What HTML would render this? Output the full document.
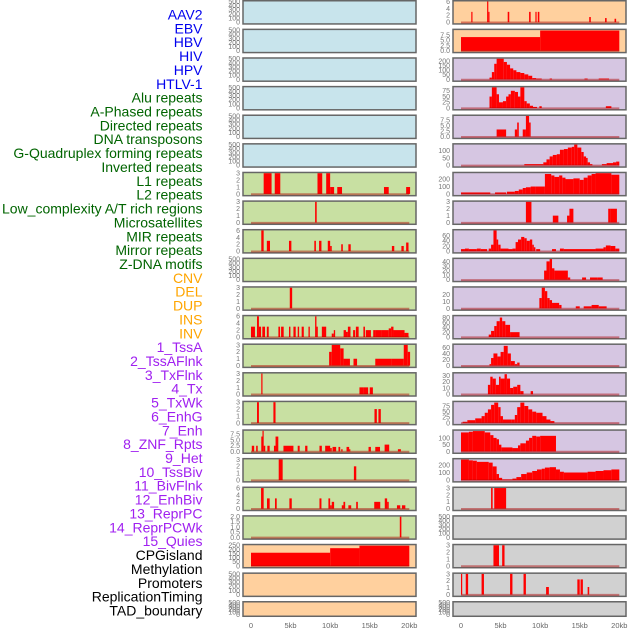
<!DOCTYPE html>
<html><head><meta charset="utf-8"><style>
html,body{margin:0;padding:0;background:#fff;width:630px;height:630px;overflow:hidden}
svg{display:block}
text{font-family:"Liberation Sans",sans-serif}
</style></head><body>
<svg id="chart" width="630" height="630" viewBox="0 0 630 630"></svg>
<script>
const labels=["AAV2","EBV","HBV","HIV","HPV","HTLV-1","Alu repeats","A-Phased repeats","Directed repeats","DNA transposons","G-Quadruplex forming repeats","Inverted repeats","L1 repeats","L2 repeats","Low_complexity A/T rich regions","Microsatellites","MIR repeats","Mirror repeats","Z-DNA motifs","CNV","DEL","DUP","INS","INV","1_TssA","2_TssAFlnk","3_TxFlnk","4_Tx","5_TxWk","6_EnhG","7_Enh","8_ZNF_Rpts","9_Het","10_TssBiv","11_BivFlnk","12_EnhBiv","13_ReprPC","14_ReprPCWk","15_Quies","CPGisland","Methylation","Promoters","ReplicationTiming","TAD_boundary"];
const labelGroups=[6,13,5,15,5];
const groupColors=["#0000ee","#006400","#ffa500","#a020f0","#000000"];
const xTickValues=[0,5,10,15,20];
const xTickLabels=["0","5kb","10kb","15kb","20kb"];
const T3=[0,1,2,3],T6=[0,2,4,6],T500=[0,100,200,300,400,500],T75=[0,2.5,5,7.5];
// left column: ymax, ticks, segments [startKb,endKb,value]
const leftYmax=[500,500,500,500,500,500,3,3,6,500,3,6,3,3,3,9,3,6,2,250,500,500];
const leftTicks=[T500,T500,T500,T500,T500,T500,T3,T3,T6,T500,T3,T6,T3,T3,T3,T75,T3,T6,[0,0.5,1,1.5,2],[0,50,100,150,200,250],T500,T500];
const L6=[[1.6,2.6,3],[3.0,3.7,3],[8.4,9.0,3],[9.5,10.0,3],[10.0,10.5,1],[10.9,11.5,1],[16.8,17.4,1],[19.6,20.1,1]];
const L7=[[8.1,8.3,3]];
const L8=[[1.3,1.6,6],[2.0,2.4,3],[4.8,5.1,3],[8.0,8.2,3],[8.6,8.9,3],[9.7,10.0,3],[10.0,10.2,1.5],[11.4,11.6,2],[12.3,12.6,2],[17.8,18.1,1.5],[19.0,19.3,1.5],[19.6,19.9,2.5]];
const L10=[[4.9,5.2,3]];
const L11=[[0,0.5,3],[0.76,1.0,6],[1.0,1.27,3],[1.43,1.77,3],[2.0,2.24,3],[3.46,3.67,3],[3.8,4.13,3],[4.8,4.98,3],[5.36,5.65,3],[5.9,6.08,3],[6.4,6.67,3],[7.26,7.43,3],[8.1,8.27,6],[8.27,8.44,3],[8.95,9.5,3],[10.2,10.46,1],[10.46,10.63,2],[11.7,12.0,2],[12.0,12.24,1.5],[12.24,12.57,3],[12.9,13.16,2],[13.25,13.6,3],[14.2,14.4,3],[14.5,15.15,2],[15.44,15.78,2],[15.78,16.54,2],[16.54,17.4,2],[17.4,17.7,2.5],[17.7,18.0,3],[18.0,19.4,2],[19.4,19.9,1.2]];
const L12=[[9.87,10.2,2],[10.2,11.27,3],[11.27,11.7,2.5],[11.7,12.5,1],[12.95,13.4,1],[15.7,17.8,1],[17.8,19.3,1],[19.3,19.8,3],[19.8,20.1,2]];
const L13=[[1.3,1.45,3],[13.7,14.2,1],[14.2,14.8,1],[15.0,15.4,1]];
const L14=[[0.76,1.0,3],[2.83,3.1,3],[15.6,15.9,2],[16.1,16.4,2]];
const L15=[[0.1,0.4,2.5],[0.65,0.85,2.5],[1.3,1.5,6.5],[1.45,1.6,9],[1.6,1.8,2.5],[2.07,2.36,2.5],[2.9,3.1,2.5],[3.1,3.45,6.5],[4.1,5.36,2.5],[5.9,6.15,2.5],[6.84,7.13,2.5],[8.65,8.95,2.5],[9.37,10.0,2.5],[10.0,10.2,1.5],[10.3,10.76,2],[11.05,11.27,2],[11.4,11.57,1],[12.07,12.4,2],[12.4,12.53,1],[14.85,15.15,2],[15.7,16.3,2],[16.88,17.46,3],[18.56,18.94,1]];
const L16=[[3.5,4.0,3],[13.0,13.3,2]];
const L17=[[1.27,1.6,6],[2.02,2.36,3],[3.03,3.25,3],[4.85,5.15,3],[8.65,8.9,3],[9.78,10.0,3],[10.0,10.2,1],[10.2,10.5,2],[11.47,11.68,1],[11.68,11.9,2],[12.3,12.66,1],[13.29,13.5,2],[15.57,16.33,2],[16.9,17.2,3],[17.2,17.4,2],[18.44,18.86,1],[19.07,19.5,1]];
const L18=[[18.8,19.0,2]];
const L19=[[0,10,160],[10,13.7,215],[13.7,20,245]];
const leftSegs=[[],[],[],[],[],[],L6,L7,L8,[],L10,L11,L12,L13,L14,L15,L16,L17,L18,L19,[],[]];
// right column
const rightYmax=[6,9.8,225,90,9.5,140,280,3,80,45,30,85,68,33,92,152,272,3,500,3,3,500];
const rightTicks=[T6,[0,2.5,5,7.5],[0,50,100,150,200],[0,25,50,75],[0,2.5,5,7.5],[0,50,100],[0,100,200],T3,[0,20,40,60],[0,10,20,30,40],[0,10,20],[0,20,40,60,80],[0,20,40,60],[0,10,20,30],[0,25,50,75],[0,50,100],[0,100,200],T3,T500,T3,T3,T500];
const R0=[[1.3,1.45,3],[3.3,3.45,6],[3.45,3.55,3],[5.9,6.1,3],[8.6,8.8,3],[9.4,9.55,3],[9.7,9.9,3],[16.2,16.4,1.5],[18.2,18.4,1.2],[19.4,19.6,1]];
const R1=[[0,10,6.5],[10,20,9.6]];
const R2=[[3.6,3.9,20],[3.9,4.2,80],[4.2,4.5,170],[4.5,5.4,225],[5.4,5.8,190],[5.8,6.2,160],[6.2,6.6,120],[6.6,7.0,100],[7.0,7.5,80],[7.5,8.0,70],[8.0,8.5,55],[8.5,9.0,40],[9.0,9.5,15],[9.5,10.2,10],[11.2,11.5,10],[15.6,16.0,10],[17.4,18.7,10]];
const R3=[[3.6,3.9,50],[3.9,4.5,90],[4.5,4.8,60],[4.8,5.3,25],[5.3,5.7,30],[5.7,6.0,50],[6.0,6.3,60],[6.3,6.8,75],[6.8,7.2,70],[7.2,7.5,50],[7.5,8.0,90],[8.0,8.3,30],[8.3,8.7,20],[8.7,9.1,10],[9.1,9.6,5],[9.9,10.2,8],[18.3,19.0,8]];
const R4=[[4.5,5.7,3.3],[6.8,7.1,3.3],[7.1,7.3,6.5],[7.8,8.2,3.3],[8.2,8.6,9.5],[8.6,8.8,6.5]];
const R5=[[8.0,10.4,8],[10.4,10.8,20],[10.8,11.2,40],[11.2,11.6,60],[11.6,12.1,70],[12.1,12.5,75],[12.5,13.0,105],[13.0,13.5,110],[13.5,14.0,120],[14.0,14.3,125],[14.3,14.7,140],[14.7,15.2,120],[15.2,15.5,90],[15.5,15.8,60],[15.8,16.0,50],[16.0,16.3,20],[16.3,16.6,8],[17.8,18.4,8],[18.4,19.2,15],[19.2,19.6,20],[19.6,20,25]];
const R6=[[0,3.7,20],[4.3,5.7,20],[5.8,6.8,30],[6.8,7.3,40],[7.3,7.8,60],[7.8,8.2,80],[8.2,8.8,90],[8.8,9.4,100],[9.4,10.6,100],[10.6,11.4,270],[11.4,11.8,250],[11.8,12.4,230],[12.4,12.8,250],[12.8,13.2,220],[13.2,14.2,200],[14.2,15.0,210],[15.0,15.5,190],[15.5,16.0,220],[16.0,16.5,250],[16.5,17.0,270],[17.0,19.0,280],[19.0,20.0,260]];
const R7=[[8.2,8.9,3],[11.6,12.3,1],[13.4,13.7,1],[13.7,14.2,2],[18.6,18.9,2],[18.9,19.7,2]];
const R8=[[0,0.5,8],[0.5,1,10],[1,2,8],[2,2.5,10],[2.5,3.3,8],[3.5,3.8,10],[3.8,4.1,25],[4.1,4.5,80],[4.5,4.7,45],[4.7,5,25],[5,6,10],[6,6.5,8],[6.5,6.9,10],[6.9,7.2,35],[7.2,7.6,45],[7.6,8,55],[8,8.3,50],[8.3,8.7,40],[8.7,9,45],[9,9.2,25],[9.2,9.4,15],[9.5,10,8],[11.5,12,8],[12.5,13,10],[13,17,8],[17,18,10],[18,18.3,15],[18.3,18.9,22],[18.9,19.5,20],[19.5,20,10]];
const R9=[[10.5,10.8,20],[10.8,11.2,40],[11.2,11.5,45],[11.5,11.8,25],[11.8,13.5,20],[13.5,13.8,5],[15.3,15.8,5],[16.3,17.2,5],[17.2,17.9,5]];
const R10=[[9.9,10.2,15],[10.2,10.6,30],[10.6,10.9,25],[10.9,11.2,15],[11.2,11.5,12],[11.5,12.4,8],[12.4,12.7,5],[14.5,15,3],[15.5,16.5,3],[16.5,17.4,5],[17.4,18.4,3]];
const R11=[[3.5,3.8,10],[3.8,4.2,25],[4.2,4.5,45],[4.5,4.9,65],[4.9,5.2,80],[5.2,5.6,65],[5.6,6.2,50],[6.2,7.4,20]];
const R12=[[3.6,3.8,5],[3.8,4.1,25],[4.1,4.6,40],[4.6,5.0,30],[5.0,5.4,45],[5.4,5.9,65],[5.9,6.3,40],[6.3,6.8,15],[6.8,7.1,5],[7.1,7.4,10]];
const R13=[[3.4,3.7,15],[3.7,4.0,28],[4.0,4.4,25],[4.4,4.8,15],[4.8,5.0,28],[5.0,5.5,25],[5.5,5.8,32],[5.8,6.2,25],[6.2,6.6,10],[6.6,7.1,12],[7.1,7.5,15],[7.5,7.9,5],[8.8,9.1,5]];
const R14=[[0.2,0.8,5],[0.8,1.8,12],[1.8,2.6,20],[2.6,3,30],[3,3.4,45],[3.4,3.8,60],[3.8,4.2,80],[4.2,4.7,90],[4.7,5,70],[5,5.3,30],[5.3,6.4,15],[6.4,6.8,15],[6.8,7.1,35],[7.1,7.5,70],[7.5,8,90],[8,8.5,75],[8.5,9,60],[9,9.5,50],[9.5,10.3,45],[10.3,10.8,30],[10.8,11.3,15],[11.3,11.8,8]];
const R15=[[0,1,140],[1,1.5,145],[1.5,3,150],[3,3.7,140],[3.7,4.1,120],[4.1,4.5,100],[4.5,4.8,90],[4.8,5.1,50],[5.1,6.5,30],[6.5,7.2,25],[7.2,7.5,45],[7.5,8.2,60],[8.2,8.6,80],[8.6,9,100],[9,9.5,115],[9.5,10,110],[10,12,115]];
const R16=[[0,1,270],[1,1.5,260],[1.5,2,255],[2,3.5,240],[3.5,4,230],[4,4.5,180],[4.5,4.8,80],[4.8,5.2,30],[5.2,6.5,10],[6.5,7,20],[7,7.6,40],[7.6,8.3,80],[8.3,9,100],[9,9.6,120],[9.6,10.2,140],[10.2,10.6,150],[10.6,11.2,165],[11.2,12,170],[12,12.5,140],[12.5,13,110],[13,16,100],[16,17,110],[17,18,120],[18,19,130],[19,20,140]];
const R17=[[3.8,4.0,3],[4.2,5.7,3]];
const R19=[[4.1,4.8,3],[5.2,5.5,3]];
const R20=[[0,0.15,3],[0.6,0.9,3],[2.6,2.9,3],[6.2,6.5,3],[7.9,8.2,3],[10.75,11.1,1.1],[14.7,15.0,2.2],[15.1,15.4,2.2],[16.0,16.2,1.1]];
const rightSegs=[R0,R1,R2,R3,R4,R5,R6,R7,R8,R9,R10,R11,R12,R13,R14,R15,R16,R17,[],R19,R20,[]];

const NS="http://www.w3.org/2000/svg";
const svg=document.getElementById('chart');
function mk(tag,attrs,parent){const e=document.createElementNS(NS,tag);for(const k in attrs)e.setAttribute(k,attrs[k]);(parent||svg).appendChild(e);return e;}
function rowTop(i){return i*28.62;}
function rowH(i){return i===21?16:24.7;}
const cols=[{px:243,x0:251},{px:453,x0:461}];
const PW=173,XW=158.3;
function xS(c,kb){return cols[c].x0+kb*XW/20;}
function yS(i,ymax,v){const t=rowTop(i),h=rowH(i);return t+h-2.5-(v/ymax)*(h-4);}
function fillColor(c,i){
  if(c===0){if(i<6)return"#c8e4ec";if(i<19)return"#c8e0a2";return"#ffd09e";}
  if(i<2)return"#ffd09e";if(i<17)return"#d6c6e2";return"#d1d1d1";
}
function fmt(t,ticks){const dec=ticks.some(v=>v%1!==0);return dec?t.toFixed(1):String(t);}

// labels
let li=0;
labelGroups.forEach((n,g)=>{for(let k=0;k<n;k++){
  const t=mk('text',{x:202.5,y:19.5+li*13.86,'text-anchor':'end','font-size':14,fill:groupColors[g]});
  t.textContent=labels[li];
  
  
  li++;}});

for(let c=0;c<2;c++){
  const ymaxArr=c?rightYmax:leftYmax,tickArr=c?rightTicks:leftTicks,segArr=c?rightSegs:leftSegs;
  for(let i=0;i<22;i++){
    const g=mk('g',{});
    
    
    const t=rowTop(i),h=rowH(i);
    mk('rect',{x:cols[c].px,y:t+0.75,width:PW,height:h-1.5,fill:fillColor(c,i),stroke:'#666',"stroke-width":1.5},g);
    const ymax=ymaxArr[i],ticks=tickArr[i];
    ticks.forEach(v=>{
      const tx=mk('text',{x:cols[c].px-3,y:yS(i,ymax,v)+2.4,'text-anchor':'end','font-size':7,fill:'#777'},g);
      tx.textContent=fmt(v,ticks);
      
      
    });
    const segs=segArr[i];
    if(segs.length){
      const y0=yS(i,ymax,0);
      segs.forEach(s=>{
        const x1=xS(c,s[0]),x2=xS(c,s[1]),y1=yS(i,ymax,s[2]);
        const r=mk('rect',{x:x1,y:y1,width:Math.max(1.2,x2-x1),height:Math.max(0.5,y0-y1),fill:'#ff0000'},g);
        
        
      });
      const bl=mk('line',{x1:xS(c,0),x2:xS(c,20),y1:y0+0.3,y2:y0+0.3,stroke:'rgba(170,0,0,0.45)','stroke-width':2},g);
      
      
    }
  }
  xTickValues.forEach((v,k)=>{
    const tx=mk('text',{x:xS(c,v),y:628,'text-anchor':'middle','font-size':7.5,fill:'#666'});
    tx.textContent=xTickLabels[k];
    
    
  });
}
</script>
</body></html>
